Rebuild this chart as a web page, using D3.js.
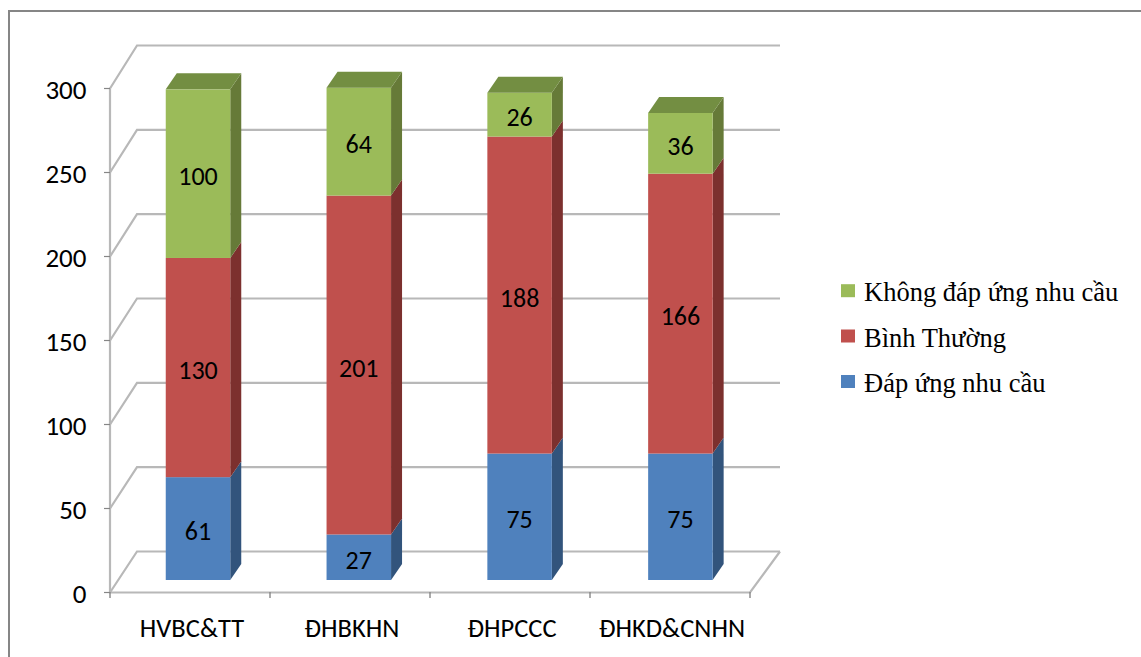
<!DOCTYPE html>
<html><head><meta charset="utf-8">
<script src="https://cdnjs.cloudflare.com/ajax/libs/d3/7.8.5/d3.min.js"></script>
<style>
html,body{margin:0;padding:0;background:#fff;overflow:hidden}
svg{display:block}
</style></head><body>
<svg id="chart" width="1141" height="657"></svg>
<script>
// Stacked 3D column chart: survey responses per university.
const categories = ["HVBC&TT", "ĐHBKHN", "ĐHPCCC", "ĐHKD&CNHN"];
const seriesNames = ["Đáp ứng nhu cầu", "Bình Thường", "Không đáp ứng nhu cầu"];
const meetsNeeds = [61, 27, 75, 75];
const normal = [130, 201, 188, 166];
const doesNotMeet = [100, 64, 26, 36];
const yTicks = [0, 50, 100, 150, 200, 250, 300];
const faceColors = ["#4f81bd", "#c0504d", "#9bbb59"];
const sideColors = ["#32547c", "#7c302e", "#667a38"];
const topColors = ["#3f6797", "#9a403e", "#738e42"];

const svg = d3.select("#chart");
const valueSets = [meetsNeeds, normal, doesNotMeet];
const sansFont = "Carlito, 'Open Sans', 'Noto Sans', sans-serif";

// Outer chart frame: its right and bottom edges fall outside the page
svg.append("rect").attr("x", 9).attr("y", 11).attr("width", 1300).attr("height", 800)
  .attr("fill", "#fff").attr("stroke", "#868686").attr("stroke-width", 2);

// Projection of the 3D box: one scale per depth plane
const yFront = d3.scaleLinear().domain([0, 300]).range([592.5, 88.5]);
const yBack = d3.scaleLinear().domain([0, 300]).range([551.5, 45.5]);
const yBar = d3.scaleLinear().domain([0, 300]).range([580, 74.2]);
const xAxis = d3.scaleBand().domain(categories).range([110, 750]);
const xBar = d3.scaleBand().domain(categories).range([117.6, 760.8]);
const barWidth = 64.5;
const barDepth = {dx: 11, dy: -16};
const wallX = 137;
const wallRight = 780;

const grid = svg.append("g").attr("fill", "none").attr("stroke", "#b8b8b8").attr("stroke-width", 2.2);
// Gridlines run across the back wall and fold down the left wall
yTicks.forEach(t => {
  grid.append("path").attr("d", d3.line()([
    [110, yFront(t)], [wallX, yBack(t)], [wallRight, yBack(t)]
  ]));
});
// Left wall edge and floor outline
grid.append("path").attr("d", d3.line()([
  [110, yFront(300)], [110, yFront(0)], [750, yFront(0)], [wallRight, yBack(0)]
]));

// Tick marks
const ticks = svg.append("g").attr("stroke", "#868686").attr("stroke-width", 1.4);
yTicks.forEach(t => ticks.append("line").attr("x1", 104).attr("x2", 110).attr("y1", yFront(t)).attr("y2", yFront(t)).attr("stroke-width", 1.2));
[...categories.map(c => xAxis(c)), xAxis.range()[1]].forEach(px =>
  ticks.append("line").attr("x1", px).attr("x2", px).attr("y1", 592).attr("y2", 598));

// Columns: a front face, side face and cap per stacked segment
const bars = svg.append("g");
const labels = [];
categories.forEach((c, i) => {
  const left = xBar(c) + xBar.bandwidth() / 2 - barWidth / 2;
  const right = left + barWidth;
  let total = 0;
  valueSets.forEach((vals, s) => {
    const yBase = yBar(total);
    total += vals[i];
    const yTop = yBar(total);
    bars.append("path").attr("fill", sideColors[s]).attr("d", d3.line()([
      [right, yBase], [right + barDepth.dx, yBase + barDepth.dy],
      [right + barDepth.dx, yTop + barDepth.dy], [right, yTop]
    ]) + "Z");
    bars.append("rect").attr("x", left).attr("y", yTop)
      .attr("width", barWidth).attr("height", yBase - yTop).attr("fill", faceColors[s]);
    labels.push({x: (left + right) / 2, y: (yBase + yTop) / 2, v: vals[i]});
    if (s === valueSets.length - 1) {
      bars.append("path").attr("fill", topColors[s]).attr("d", d3.line()([
        [left, yTop], [left + barDepth.dx, yTop + barDepth.dy],
        [right + barDepth.dx, yTop + barDepth.dy], [right, yTop]
      ]) + "Z");
    }
  });
});

// Value labels
svg.append("g").selectAll("text").data(labels).join("text")
  .attr("x", d => d.x).attr("y", d => d.y + 11.5)
  .attr("text-anchor", "middle").attr("font-family", sansFont)
  .attr("font-size", 26).attr("fill", "#000").text(d => d.v);

// Value axis labels
svg.append("g").selectAll("text").data(yTicks).join("text")
  .attr("x", 86.5).attr("y", d => yFront(d) + 10.5)
  .attr("text-anchor", "end").attr("font-family", sansFont)
  .attr("font-size", 27).attr("fill", "#000").text(d => d);

// Category labels
svg.append("g").selectAll("text").data(categories).join("text")
  .attr("x", d => xAxis(d) + xAxis.bandwidth() / 2 + 2).attr("y", 637)
  .attr("text-anchor", "middle").attr("font-family", sansFont)
  .attr("font-size", 26.5).attr("fill", "#000").text(d => d);

// Legend, top entry first
const legendSwatchY = [290.7, 336, 381.5];
const legendBaseline = [301, 347, 392];
const legend = svg.append("g");
[2, 1, 0].forEach((s, row) => {
  legend.append("rect").attr("x", 841).attr("y", legendSwatchY[row] - 6.5).attr("width", 14).attr("height", 13)
    .attr("fill", faceColors[s]);
  legend.append("text").attr("x", 864).attr("y", legendBaseline[row])
    .attr("font-family", "'Liberation Serif', serif").attr("font-size", 26.5)
    .attr("fill", "#000").text(seriesNames[s]);
});
</script>
</body></html>
